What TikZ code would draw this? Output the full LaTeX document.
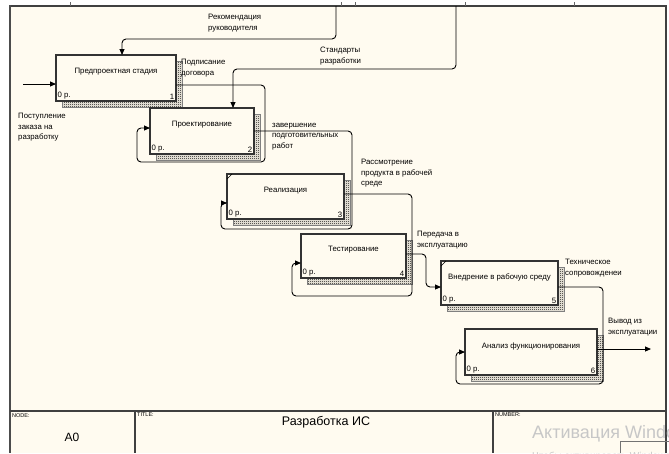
\documentclass[tikz,border=0pt]{standalone}
\usepackage{fontspec}
\setmainfont{Liberation Sans}
\usetikzlibrary{arrows.meta,patterns,shadows}
\definecolor{paper}{RGB}{255,251,240}
\pgfdeclarepatternformonly{checker}{\pgfpointorigin}{\pgfqpoint{2pt}{2pt}}{\pgfqpoint{2pt}{2pt}}{%
  \pgfpathrectangle{\pgfpointorigin}{\pgfqpoint{1pt}{1pt}}%
  \pgfpathrectangle{\pgfqpoint{1pt}{1pt}}{\pgfqpoint{1pt}{1pt}}%
  \pgfusepath{fill}}
\begin{document}
\begin{tikzpicture}[x=1pt,y=-1pt,
  act/.style={rectangle, draw=black!80, line width=1.3pt, fill=paper, inner sep=0pt, outer sep=0pt,
    general shadow={shadow xshift=6pt, shadow yshift=-6pt, draw=black!50, line width=0.4pt, pattern=checker, pattern color=black}},
  boxtitle/.style={font=\fontsize{7.8}{9}\selectfont, inner sep=0pt},
  cost/.style={font=\fontsize{7.8}{9}\selectfont, inner sep=1.5pt},
  lbl/.style={font=\fontsize{7.8}{10.5}\selectfont, align=left, inner sep=0pt, anchor=north west},
  flow/.style={line width=0.9pt, rounded corners=4pt, -{Triangle[length=6pt,width=5pt]}},
  frame/.style={line width=1.2pt, black!75},
  hdr/.style={font=\fontsize{5.5}{6}\selectfont, inner sep=0pt, anchor=north west}]
\useasboundingbox (0,0) rectangle (669,453);
\fill[white] (0,0) rectangle (669,453);
\fill[paper] (10,6) rectangle (666,453);
\draw[frame] (10,6) -- (666,6) -- (666,453);
\draw[line width=2.4pt, black!70] (10,5) -- (10,453);
\foreach \t in {70,341,355,465,574} \draw[black!60, thin] (\t,2) -- (\t,6);

\node[act, minimum width=120pt, minimum height=46pt] (act1) at (116,78) {};
\node[boxtitle] (t1) at ([yshift=-17pt]act1.north) {Предпроектная стадия};
\node[cost, anchor=south west] (c1) at (act1.south west) {0 р.};
\node[cost, anchor=south east] (n1) at (act1.south east) {1};

\node[act, minimum width=104pt, minimum height=46pt] (act2) at (202,131) {};
\node[boxtitle] (t2) at ([yshift=-17pt]act2.north) {Проектирование};
\node[cost, anchor=south west] (c2) at (act2.south west) {0 р.};
\node[cost, anchor=south east] (n2) at (act2.south east) {2};

\node[act, minimum width=117pt, minimum height=45pt] (act3) at (285.5,196.5) {};
\node[boxtitle] (t3) at ([yshift=-17pt]act3.north) {Реализация};
\node[cost, anchor=south west] (c3) at (act3.south west) {0 р.};
\node[cost, anchor=south east] (n3) at (act3.south east) {3};
\draw[thin] ([xshift=5pt]act3.north west) -- ([yshift=-5pt]act3.north west);

\node[act, minimum width=105pt, minimum height=44pt] (act4) at (353.5,256) {};
\node[boxtitle] (t4) at ([yshift=-16pt]act4.north) {Тестирование};
\node[cost, anchor=south west] (c4) at (act4.south west) {0 р.};
\node[cost, anchor=south east] (n4) at (act4.south east) {4};

\node[act, minimum width=117pt, minimum height=44pt] (act5) at (499.5,283) {};
\node[boxtitle] (t5) at ([yshift=-16pt]act5.north) {Внедрение в рабочую среду};
\node[cost, anchor=south west] (c5) at (act5.south west) {0 р.};
\node[cost, anchor=south east] (n5) at (act5.south east) {5};
\draw[thin] ([xshift=5pt]act5.north west) -- ([yshift=-5pt]act5.north west);

\node[act, minimum width=132pt, minimum height=46pt] (act6) at (531,352) {};
\node[boxtitle] (t6) at ([yshift=-17pt]act6.north) {Анализ функционирования};
\node[cost, anchor=south west] (c6) at (act6.south west) {0 р.};
\node[cost, anchor=south east] (n6) at (act6.south east) {6};

\coordinate (in1) at (23,84);
\coordinate (ctl1) at (336,6);
\coordinate (ctl2) at (456,6);
\coordinate (out1) at (651,349);

\draw[flow] (in1) -- (act1.west |- in1);
\draw[flow] (ctl1) |- (122,39) -- (122,0 |- act1.north);
\draw[flow] (ctl2) |- (233,69) -- (233,0 |- act2.north);
\draw[flow] (act1.east |- 0,85) -| (265,162) -| (137,128) -- (act2.west |- 0,128);
\draw[flow] (act2.east |- 0,131) -| (352,229) -| (221,203) -- (act3.west |- 0,203);
\draw[flow] (act3.east |- 0,194) -| (412,296) -| (292,263) -- (act4.west |- 0,263);
\draw[flow] (act4.east |- 0,254) -| (426,287) -- (act5.west |- 0,287);
\draw[flow] (act5.east |- 0,287) -| (603,384) -| (456,352) -- (act6.west |- 0,352);
\draw[flow] (act6.east |- out1) -- (out1);

\node[lbl] (l1) at (18,113) {Поступление\\заказа на\\разработку};
\node[lbl] (l2) at (208,14) {Рекомендация\\руководителя};
\node[lbl] (l3) at (320,47) {Стандарты\\разработки};
\node[lbl] (l4) at (181,59) {Подписание\\договора};
\node[lbl] (l5) at (272,123) {завершение\\подготовительных\\работ};
\node[lbl] (l6) at (361,159) {Рассмотрение\\продукта в рабочей\\среде};
\node[lbl] (l7) at (417,231) {Передача в\\эксплуатацию};
\node[lbl] (l8) at (565,259) {Техническое\\сопровожденеи};
\node[lbl] (l9) at (608,318) {Вывод из\\эксплуатации};

\draw[frame] (10,411) -- (666,411);
\draw[frame] (135,411) -- (135,453);
\draw[frame] (493,411) -- (493,453);
\node[hdr] (h1) at (12,413) {NODE:};
\node[hdr] (h2) at (137,413) {TITLE:};
\node[hdr] (h3) at (495,413) {NUMBER:};
\node[font=\fontsize{12}{14}\selectfont] (node) at (72,437) {A0};
\node[font=\fontsize{12.5}{14}\selectfont] (title) at (326,422) {Разработка ИС};

\node[font=\fontsize{18}{20}\selectfont, text=black!22, anchor=west, inner sep=0pt] (wm1) at (532,434) {Активация Windows};
\node[font=\fontsize{10}{12}\selectfont, text=black!22, anchor=west, inner sep=0pt] (wm2) at (532,457) {Чтобы активировать Windows};
\draw[black!55] (620,453) |- (669,441);
\end{tikzpicture}
\end{document}
